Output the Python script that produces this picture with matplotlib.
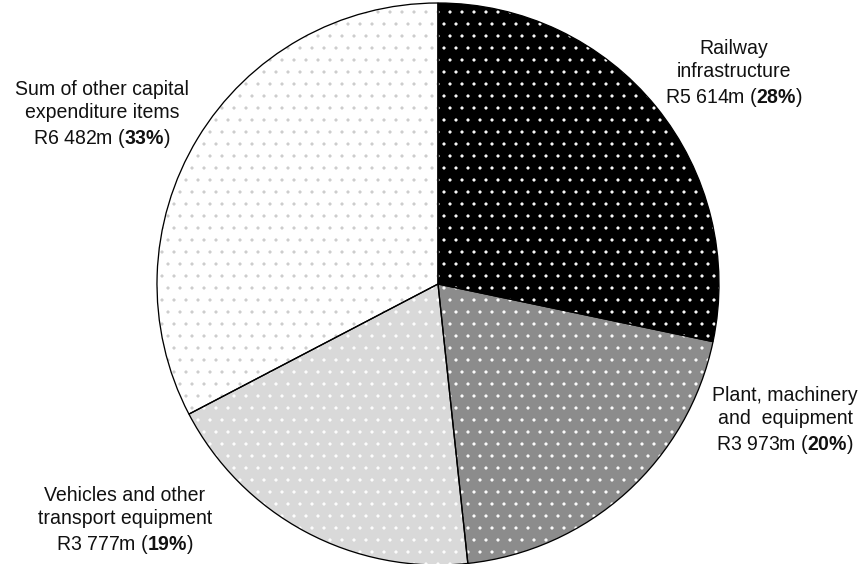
import matplotlib
matplotlib.use('Agg')
import matplotlib.pyplot as plt

plt.rcParams['font.family'] = ['Liberation Sans', 'DejaVu Sans']
plt.rcParams['mathtext.fontset'] = 'custom'
plt.rcParams['mathtext.rm'] = 'Liberation Sans'
plt.rcParams['mathtext.bf'] = 'Liberation Sans:bold'
plt.rcParams['hatch.linewidth'] = 0.7

# capital expenditure by item, R million
items = ['Railway\ninfrastructure',
         'Plant, machinery\nand  equipment',
         'Vehicles and other\ntransport equipment',
         'Sum of other capital\nexpenditure items']
values = [5614, 3973, 3777, 6482]
value_text = ['R5 614m', 'R3 973m', 'R3 777m', 'R6 482m']
pct_text = ['28%', '20%', '19%', '33%']

face = ['#000000', '#8c8c8c', '#d9d9d9', '#ffffff']
dots = ['#ffffff', '#ffffff', '#ffffff', '#cccccc']

W, H = 863, 564
fig = plt.figure(figsize=(W / 72, H / 72), dpi=72)
ax = fig.add_axes([0, 0, 1, 1])

cx, cy, r = 438, 280, 281

# filled dotted wedges (hatch colour comes from edgecolor)
wedges, _ = ax.pie(values, startangle=90, counterclock=False,
                   center=(cx, cy), radius=r, frame=True)
for w, fc, dc in zip(wedges, face, dots):
    w.set_facecolor(fc)
    w.set_edgecolor(dc)
    w.set_linewidth(0)
    w.set_hatch('.')

# black outlines on top
outl, _ = ax.pie(values, startangle=90, counterclock=False,
                 center=(cx, cy), radius=r, frame=True,
                 wedgeprops=dict(fill=False, edgecolor='black', linewidth=1.3))

label_pos = [(734, 74), (785, 421), (125, 521), (102, 115)]
for name, vt, pt, (x, y) in zip(items, value_text, pct_text, label_pos):
    s = name + '\n' + vt + ' ($\\mathbf{' + pt.replace('%', '\\%') + '}$)'
    ax.text(x, H - y, s, ha='center', va='center', multialignment='center',
            fontsize=19.5, linespacing=1.27, color='#111111')

ax.set_xlim(0, W)
ax.set_ylim(0, H)
ax.set_aspect('auto')
ax.axis('off')

fig.savefig('out.png', dpi=72)
